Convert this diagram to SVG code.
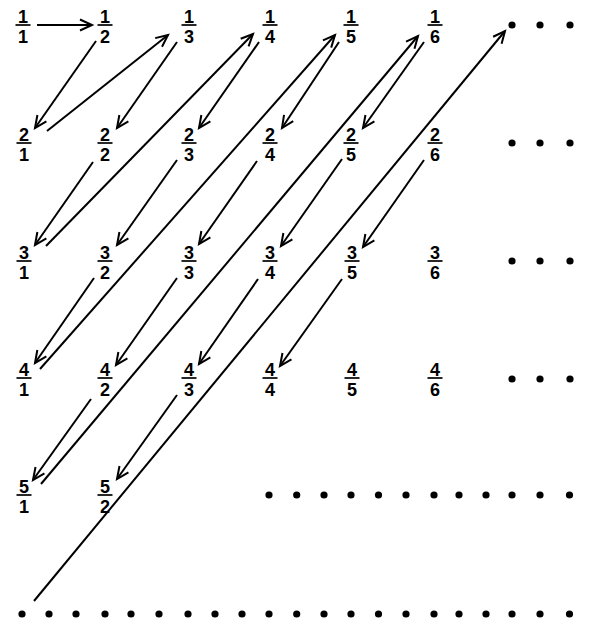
<svg xmlns="http://www.w3.org/2000/svg" width="593" height="633" viewBox="0 0 593 633">
<style>
text{font-family:"Liberation Sans",Arial,sans-serif;font-size:18px;font-weight:bold;text-anchor:middle;fill:#000}
.bar{stroke:#000;stroke-width:1.7}
.c line{stroke:#000;stroke-width:2;fill:none;marker-end:url(#ah)}
.d circle{fill:#000}
</style>
<defs>
<marker id="ah" markerUnits="userSpaceOnUse" viewBox="-14 -8 17 16" refX="0" refY="0" markerWidth="17" markerHeight="16" orient="auto">
<path d="M-12,-5.5 L0,0 L-12,5.5" fill="none" stroke="#000" stroke-width="2" stroke-linejoin="miter"/>
</marker>
<g id="barTpl"><line class="bar" x1="-7.5" y1="0" x2="7.5" y2="0"/></g>
</defs>
<rect width="593" height="633" fill="#fff"/>
<g id="f1_1" transform="translate(23,25)"><text y="-2">1</text><use href="#barTpl"/><text y="17.5">1</text></g>
<g id="f1_2" transform="translate(105,25)"><text y="-2">1</text><use href="#barTpl"/><text y="17.5">2</text></g>
<g id="f1_3" transform="translate(189,25)"><text y="-2">1</text><use href="#barTpl"/><text y="17.5">3</text></g>
<g id="f1_4" transform="translate(270,25)"><text y="-2">1</text><use href="#barTpl"/><text y="17.5">4</text></g>
<g id="f1_5" transform="translate(351,25)"><text y="-2">1</text><use href="#barTpl"/><text y="17.5">5</text></g>
<g id="f1_6" transform="translate(435,25)"><text y="-2">1</text><use href="#barTpl"/><text y="17.5">6</text></g>
<g id="f2_1" transform="translate(24,143)"><text y="-2">2</text><use href="#barTpl"/><text y="17.5">1</text></g>
<g id="f2_2" transform="translate(105,143)"><text y="-2">2</text><use href="#barTpl"/><text y="17.5">2</text></g>
<g id="f2_3" transform="translate(189,143)"><text y="-2">2</text><use href="#barTpl"/><text y="17.5">3</text></g>
<g id="f2_4" transform="translate(270,143)"><text y="-2">2</text><use href="#barTpl"/><text y="17.5">4</text></g>
<g id="f2_5" transform="translate(351,143)"><text y="-2">2</text><use href="#barTpl"/><text y="17.5">5</text></g>
<g id="f2_6" transform="translate(435,143)"><text y="-2">2</text><use href="#barTpl"/><text y="17.5">6</text></g>
<g id="f3_1" transform="translate(24,261)"><text y="-2">3</text><use href="#barTpl"/><text y="17.5">1</text></g>
<g id="f3_2" transform="translate(105,261)"><text y="-2">3</text><use href="#barTpl"/><text y="17.5">2</text></g>
<g id="f3_3" transform="translate(189,261)"><text y="-2">3</text><use href="#barTpl"/><text y="17.5">3</text></g>
<g id="f3_4" transform="translate(270,261)"><text y="-2">3</text><use href="#barTpl"/><text y="17.5">4</text></g>
<g id="f3_5" transform="translate(352,261)"><text y="-2">3</text><use href="#barTpl"/><text y="17.5">5</text></g>
<g id="f3_6" transform="translate(435,261)"><text y="-2">3</text><use href="#barTpl"/><text y="17.5">6</text></g>
<g id="f4_1" transform="translate(24,378)"><text y="-2">4</text><use href="#barTpl"/><text y="17.5">1</text></g>
<g id="f4_2" transform="translate(105,378)"><text y="-2">4</text><use href="#barTpl"/><text y="17.5">2</text></g>
<g id="f4_3" transform="translate(189,378)"><text y="-2">4</text><use href="#barTpl"/><text y="17.5">3</text></g>
<g id="f4_4" transform="translate(270,378)"><text y="-2">4</text><use href="#barTpl"/><text y="17.5">4</text></g>
<g id="f4_5" transform="translate(352,378)"><text y="-2">4</text><use href="#barTpl"/><text y="17.5">5</text></g>
<g id="f4_6" transform="translate(435,378)"><text y="-2">4</text><use href="#barTpl"/><text y="17.5">6</text></g>
<g id="f5_1" transform="translate(24,495)"><text y="-2">5</text><use href="#barTpl"/><text y="17.5">1</text></g>
<g id="f5_2" transform="translate(105,495)"><text y="-2">5</text><use href="#barTpl"/><text y="17.5">2</text></g>
<g id="connectors" class="c">
<line x1="37" y1="25" x2="92" y2="25"/>
<line x1="96" y1="41" x2="35" y2="128"/>
<line x1="47" y1="131" x2="168" y2="35"/>
<line x1="177" y1="42" x2="117" y2="128"/>
<line x1="93" y1="162" x2="35" y2="245"/>
<line x1="46" y1="246" x2="253" y2="34"/>
<line x1="259" y1="42" x2="199" y2="128"/>
<line x1="177" y1="160" x2="117" y2="245"/>
<line x1="94" y1="278" x2="35" y2="363"/>
<line x1="40" y1="369" x2="335" y2="35"/>
<line x1="339" y1="42" x2="282" y2="128"/>
<line x1="257" y1="161" x2="199" y2="244"/>
<line x1="177" y1="278" x2="116" y2="365"/>
<line x1="91" y1="399" x2="33" y2="480"/>
<line x1="41" y1="484" x2="418" y2="36"/>
<line x1="424" y1="42" x2="363" y2="128"/>
<line x1="342" y1="159" x2="281" y2="246"/>
<line x1="258" y1="279" x2="199" y2="364"/>
<line x1="177" y1="395" x2="117" y2="479"/>
<line x1="424" y1="160" x2="363" y2="247"/>
<line x1="342" y1="279" x2="280" y2="366"/>
<line x1="34" y1="601" x2="505" y2="31"/>
</g>
<g id="dots" class="d">
<circle cx="512" cy="25" r="3.6"/><circle cx="540" cy="25" r="3.6"/><circle cx="570" cy="25" r="3.6"/>
<circle cx="512" cy="143" r="3.6"/><circle cx="540" cy="143" r="3.6"/><circle cx="570" cy="143" r="3.6"/>
<circle cx="512" cy="261" r="3.6"/><circle cx="540" cy="261" r="3.6"/><circle cx="570" cy="261" r="3.6"/>
<circle cx="512" cy="379" r="3.6"/><circle cx="540" cy="379" r="3.6"/><circle cx="570" cy="379" r="3.6"/>
<circle cx="269" cy="495" r="3.6"/><circle cx="296.7" cy="495" r="3.6"/><circle cx="324" cy="495" r="3.6"/><circle cx="351" cy="495" r="3.6"/><circle cx="378.5" cy="495" r="3.6"/><circle cx="406" cy="495" r="3.6"/><circle cx="434" cy="495" r="3.6"/><circle cx="459" cy="495" r="3.6"/><circle cx="486" cy="495" r="3.6"/><circle cx="512" cy="495" r="3.6"/><circle cx="540" cy="495" r="3.6"/><circle cx="569.5" cy="495" r="3.6"/>
<circle cx="22" cy="614" r="3.6"/><circle cx="49" cy="614" r="3.6"/><circle cx="76" cy="614" r="3.6"/><circle cx="105" cy="614" r="3.6"/><circle cx="131" cy="614" r="3.6"/><circle cx="159" cy="614" r="3.6"/><circle cx="188" cy="614" r="3.6"/><circle cx="215" cy="614" r="3.6"/><circle cx="242" cy="614" r="3.6"/><circle cx="269" cy="614" r="3.6"/><circle cx="296.7" cy="614" r="3.6"/><circle cx="324" cy="614" r="3.6"/><circle cx="351" cy="614" r="3.6"/><circle cx="378.5" cy="614" r="3.6"/><circle cx="406" cy="614" r="3.6"/><circle cx="434" cy="614" r="3.6"/><circle cx="459" cy="614" r="3.6"/><circle cx="486" cy="614" r="3.6"/><circle cx="512" cy="614" r="3.6"/><circle cx="540" cy="614" r="3.6"/><circle cx="569.5" cy="614" r="3.6"/>
</g>
</svg>
